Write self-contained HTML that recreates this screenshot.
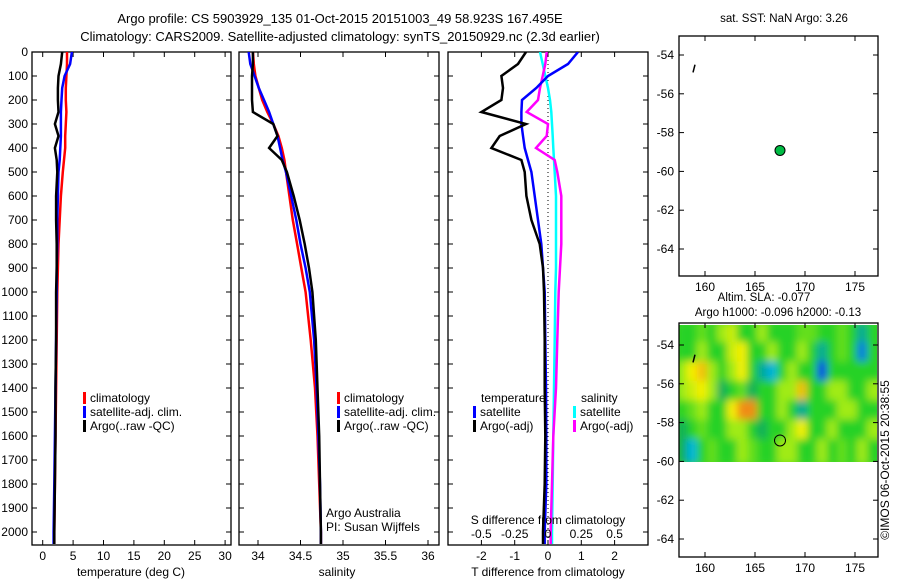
<!DOCTYPE html>
<html><head><meta charset="utf-8">
<style>
body{margin:0;background:#fff;}
svg{display:block;font-family:"Liberation Sans",sans-serif;}
text{fill:#000;}
</style></head>
<body>
<svg id="chart" width="900" height="580" viewBox="0 0 900 580" xmlns="http://www.w3.org/2000/svg">
<defs>
<clipPath id="c1"><rect x="32" y="52" width="199" height="493"/></clipPath>
<clipPath id="c2"><rect x="239" y="52" width="200" height="493"/></clipPath>
<clipPath id="c3"><rect x="448" y="52" width="200" height="493"/></clipPath>
<clipPath id="cm"><rect x="679" y="325" width="198" height="137"/></clipPath>
<filter id="blur"><feGaussianBlur stdDeviation="4"/></filter>
</defs>
<text x="340" y="23" font-size="13" text-anchor="middle">Argo profile: CS 5903929_135 01-Oct-2015 20151003_49 58.923S 167.495E</text>
<text x="340" y="41" font-size="13" text-anchor="middle">Climatology: CARS2009. Satellite-adjusted climatology: synTS_20150929.nc (2.3d earlier)</text>
<text x="784" y="22" font-size="11.5" text-anchor="middle">sat. SST: NaN Argo: 3.26</text>
<text x="764" y="301" font-size="11.5" text-anchor="middle">Altim. SLA: -0.077</text>
<text x="778" y="316" font-size="11.5" text-anchor="middle">Argo h1000: -0.096 h2000: -0.13</text>
<text transform="translate(889,460) rotate(-90)" font-size="12" text-anchor="middle">©IMOS 06-Oct-2015 20:38:55</text>
</svg>
<script>
// ---- data ----
const depths   = [0,50,100,150,200,250,300,350,400,450,500,600,700,800,900,1000,1200,1400,1600,1800,2000,2050];
const tClim    = [4.0,4.0,3.9,3.8,3.8,3.9,3.8,3.7,3.7,3.5,3.3,3.0,2.8,2.6,2.5,2.4,2.3,2.2,2.1,2.0,1.9,1.9];
const tSat     = [4.8,4.5,3.6,3.2,3.1,3.0,3.0,3.0,2.9,2.8,2.6,2.5,2.4,2.4,2.3,2.3,2.2,2.1,2.0,1.9,1.8,1.8];
const tArgo    = [3.2,3.0,2.6,2.5,2.5,2.6,2.0,2.6,2.0,2.3,2.4,2.2,2.2,2.3,2.3,2.2,2.2,2.1,2.1,2.0,1.9,1.9];
const sClim    = [33.94,33.95,33.97,34.01,34.05,34.11,34.18,34.24,34.28,34.31,34.33,34.37,34.41,34.46,34.51,34.56,34.62,34.67,34.70,34.72,34.74,34.74];
const sSat     = [33.89,33.91,33.96,34.01,34.07,34.13,34.18,34.23,34.26,34.29,34.33,34.39,34.45,34.50,34.56,34.61,34.66,34.69,34.71,34.73,34.74,34.74];
const sArgo    = [33.94,33.94,33.93,33.93,33.93,33.94,34.18,34.23,34.13,34.28,34.34,34.42,34.49,34.55,34.60,34.64,34.68,34.70,34.72,34.73,34.74,34.74];
const dtSat    = [0.9,0.6,0.0,-0.35,-0.78,-0.8,-0.8,-0.75,-0.7,-0.6,-0.5,-0.4,-0.3,-0.2,-0.15,-0.1,-0.08,-0.06,-0.05,-0.05,-0.1,-0.1];
const dtArgo   = [-0.66,-0.9,-1.4,-1.35,-1.4,-2.0,-0.66,-1.45,-1.7,-0.8,-0.7,-0.65,-0.5,-0.25,-0.15,-0.12,-0.1,-0.1,-0.08,-0.1,-0.15,-0.15];
const dsSat    = [-0.06,-0.04,-0.02,0.0,0.015,0.025,0.03,0.035,0.04,0.045,0.05,0.06,0.06,0.06,0.06,0.055,0.05,0.045,0.04,0.035,0.03,0.03];
const dsArgo   = [-0.01,-0.02,-0.04,-0.06,-0.075,-0.16,0.0,-0.01,-0.09,0.05,0.07,0.1,0.1,0.1,0.09,0.08,0.07,0.06,0.04,0.03,0.02,0.02];
const tTicks   = [0,5,10,15,20,25,30];
const sTicks   = [34,34.5,35,35.5,36];
const sTickLbl = ["34","34.5","35","35.5","36"];
const dtTicks  = [-2,-1,0,1,2];
const dsTicks  = [-0.5,-0.25,0,0.25,0.5];
const dsTickLbl= ["-0.5","-0.25","0","0.25","0.5"];
const depthTicks=[0,100,200,300,400,500,600,700,800,900,1000,1100,1200,1300,1400,1500,1600,1700,1800,1900,2000];
const latTicks = [-54,-56,-58,-60,-62,-64];
const lonTicks = [160,165,170,175];
const floatLon = 167.5, floatLat = -58.92;
const slaLats  = [-53.5,-54.5,-55.5,-56.5,-57.5,-58.5,-59.5];
const slaLons  = [158,159,160,161,162,163,164,165,166,167,168,169,170,171,172,173,174,175,176,177];
const sla = [
 [0,0,0.5,0,1,1.5,0,0,1,0,0,0,0.5,0.5,0,0,0.5,0,-1,0],
 [0,0,1,0,0,1.5,2,0,0,1,0,0,1,0,-1,0,0.5,0,-2,0],
 [1,2,2.5,1,0,1,2,0,-1,-1.5,0,1,0,0,-2.5,0,0,0,0,0],
 [1,1.5,2,1,-0.5,0,0.5,-0.5,0,0,1,1,2.5,0,0,1,1,0,0,1],
 [0,0.5,1,0,0,2,3,3,0,0,1,0,-1,0,0,0,1,1,0,0],
 [-0.5,0,0.5,0,0,1,1,0,-0.5,0,0,1,2,0,0,1,0,0,0,1],
 [-0.5,-1.5,0,0.5,0,0,1,0.5,0,0,1,1,0,0,1,0,0.5,0,1,0]
];
// ---- scales ----
const yD = d => 52 + d*0.24;
const xT = t => 42.7 + t*6.08;
const xS = s => 258 + (s-34)*85;
const xDT = t => 548 + t*33.3;
const xDS = s => 548 + s*133.2;
const yLat1 = l => 55 + (-54-l)*19.4;
const yLat2 = l => 345 + (-54-l)*19.4;
const xLon = l => 705 + (l-160)*10;

const svg = document.getElementById('chart');
const NS = 'http://www.w3.org/2000/svg';
function mk(tag, attrs, parent){
  const e = document.createElementNS(NS, tag);
  for (const k in attrs) e.setAttribute(k, attrs[k]);
  (parent||svg).appendChild(e); return e;
}
function txt(x,y,s,size,anchor,parent){
  const t = mk('text',{x:x,y:y,'font-size':size,'text-anchor':anchor||'middle'},parent);
  t.textContent = s; return t;
}
function profile(xs, xf, color, w, clip, name){
  const pts = depths.map((d,i)=> xf(xs[i]).toFixed(1)+','+yD(d).toFixed(1)).join(' ');
  const p = mk('polyline',{points:pts,fill:'none',stroke:color,'stroke-width':w,'clip-path':'url(#'+clip+')'});
  
  
}
function frame(x,y,w,h,name){
  const r = mk('rect',{x:x,y:y,width:w,height:h,fill:'none',stroke:'#000','stroke-width':1.3});
  
  
}
function depthAxis(x0,x1,labels){
  depthTicks.forEach(d=>{
    mk('line',{x1:x0,x2:x0+5,y1:yD(d),y2:yD(d),stroke:'#000'});
    mk('line',{x1:x1-5,x2:x1,y1:yD(d),y2:yD(d),stroke:'#000'});
    if(labels){ const t=txt(28,yD(d)+4,String(d),12,'end');
      
       }
  });
}
function xAxis(ticks,lbls,xf,name,yb){
  ticks.forEach((v,i)=>{
    const x=xf(v);
    mk('line',{x1:x,x2:x,y1:yb-5,y2:yb,stroke:'#000'});
    mk('line',{x1:x,x2:x,y1:52,y2:57,stroke:'#000'});
    const t=txt(x,yb+15,lbls[i],12);
    
    
  });
}
function legend(x,y,color,label,name){
  mk('rect',{x:x,y:y-10,width:3,height:12,fill:color});
  const t=txt(x+7,y,label,12,'start');
  
  
}

// ---- panel 1: temperature ----
frame(32,52,199,493,'temperature-plot-frame');
depthAxis(32,231,true);
xAxis(tTicks,tTicks.map(String),xT,'temperature-tick-label',545);
profile(tClim,xT,'#f00',2.5,'c1','temp-climatology-line');
profile(tSat,xT,'#00f',2.5,'c1','temp-satellite-line');
profile(tArgo,xT,'#000',2.5,'c1','temp-argo-line');
legend(83,402,'#f00','climatology','legend-climatology');
legend(83,416,'#00f','satellite-adj. clim.','legend-satellite');
legend(83,430,'#000','Argo(..raw -QC)','legend-argo');
txt(131,576,'temperature (deg C)',12);

// ---- panel 2: salinity ----
frame(239,52,200,493,'salinity-plot-frame');
depthAxis(239,439,false);
xAxis(sTicks,sTickLbl,xS,'salinity-tick-label',545);
profile(sClim,xS,'#f00',2.5,'c2','sal-climatology-line');
profile(sSat,xS,'#00f',2.5,'c2','sal-satellite-line');
profile(sArgo,xS,'#000',2.5,'c2','sal-argo-line');
legend(337,402,'#f00','climatology','legend-climatology-sal');
legend(337,416,'#00f','satellite-adj. clim.','legend-satellite-sal');
legend(337,430,'#000','Argo(..raw -QC)','legend-argo-sal');
txt(326,517,'Argo Australia',12,'start');
txt(326,531,'PI: Susan Wijffels',12,'start');
txt(337,576,'salinity',12);

// ---- panel 3: differences ----
frame(448,52,200,493,'difference-plot-frame');
depthAxis(448,648,false);
xAxis(dtTicks,dtTicks.map(String),xDT,'t-diff-tick-label',545);
mk('line',{x1:xDT(0),x2:xDT(0),y1:52,y2:545,stroke:'#000','stroke-dasharray':'1,3'});
profile(dsSat,xDS,'#0ff',2.5,'c3','s-diff-satellite-line');
profile(dsArgo,xDS,'#f0f',2.5,'c3','s-diff-argo-line');
profile(dtSat,xDT,'#00f',2.5,'c3','t-diff-satellite-line');
profile(dtArgo,xDT,'#000',2.5,'c3','t-diff-argo-line');
dsTicks.forEach((v,i)=>{ const t=txt(xDS(v),538,dsTickLbl[i],12);
    });
txt(548,524,'S difference from climatology',12);
txt(548,576,'T difference from climatology',12);
txt(481,402,'temperature',12,'start');
txt(581,402,'salinity',12,'start');
legend(473,416,'#00f','satellite','legend-t-satellite');
legend(473,430,'#000','Argo(-adj)','legend-t-argo');
legend(573,416,'#0ff','satellite','legend-s-satellite');
legend(573,430,'#f0f','Argo(-adj)','legend-s-argo');

// ---- maps ----
function mapAxes(y0,h,yl,name){
  frame(679,y0,199,h,name);
  latTicks.forEach(l=>{ const y=yl(l);
    mk('line',{x1:679,x2:684,y1:y,y2:y,stroke:'#000'});
    mk('line',{x1:873,x2:878,y1:y,y2:y,stroke:'#000'});
    const t=txt(674,y+4,String(l),12,'end');
      });
  lonTicks.forEach(l=>{ const x=xLon(l);
    mk('line',{x1:x,x2:x,y1:y0,y2:y0+5,stroke:'#000'});
    mk('line',{x1:x,x2:x,y1:y0+h-5,y2:y0+h,stroke:'#000'});
    const t=txt(x,y0+h+15,String(l),12);
      });
}
function cmap(v){
  const stops=[[-2.5,[0,60,230]],[-1.5,[0,180,220]],[-0.7,[0,160,110]],[0,[40,210,40]],[1,[160,235,20]],[2,[245,240,0]],[3,[240,140,20]]];
  if(v<=stops[0][0]) return 'rgb('+stops[0][1]+')';
  for(let i=1;i<stops.length;i++){ if(v<=stops[i][0]){
    const a=stops[i-1],b=stops[i],f=(v-a[0])/(b[0]-a[0]);
    return 'rgb('+a[1].map((c,j)=>Math.round(c+(b[1][j]-c)*f)).join(',')+')'; } }
  return 'rgb('+stops[stops.length-1][1]+')';
}
// heatmap
const hg = mk('g',{'clip-path':'url(#cm)'});


mk('rect',{x:679,y:325,width:198,height:137,fill:cmap(0.3)},hg);
const hb = mk('g',{filter:'url(#blur)'},hg);
slaLats.forEach((lat,r)=>{ slaLons.forEach((lon,c)=>{
  const cell = mk('rect',{x:xLon(lon-0.5)-3,y:yLat2(lat+0.5)-3,width:16,height:25,fill:cmap(sla[r][c])},hb);
  
  
});});
mapAxes(36,240,yLat1,'sst-map-frame');
mapAxes(323,234,yLat2,'sla-map-frame');
// coast marks
mk('line',{x1:xLon(158.8),y1:yLat1(-54.9),x2:xLon(159),y2:yLat1(-54.5),stroke:'#000','stroke-width':1.5});
mk('line',{x1:xLon(158.8),y1:yLat2(-54.9),x2:xLon(159),y2:yLat2(-54.5),stroke:'#000','stroke-width':1.5});
const fp = mk('circle',{cx:xLon(floatLon),cy:yLat1(floatLat),r:5,fill:'#0b4',stroke:'#000','stroke-width':1});


const fp2 = mk('circle',{cx:xLon(floatLon),cy:yLat2(floatLat),r:5.5,fill:'none',stroke:'#000','stroke-width':1});


</script>
</body></html>
